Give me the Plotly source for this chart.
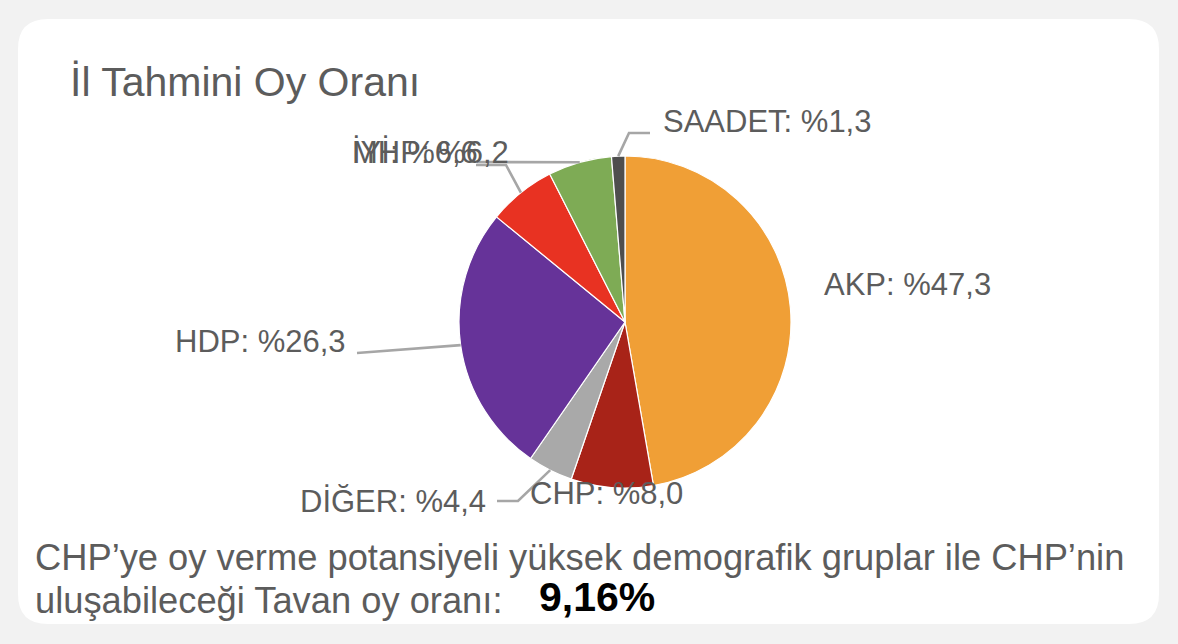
import math
import plotly.graph_objects as go

# ---------------- data ----------------
parties = ["AKP", "CHP", "DİĞER", "HDP", "İYİ", "MHP", "SAADET"]
vote_share = [47.3, 8.0, 4.4, 26.3, 6.6, 6.2, 1.3]
label_texts = ["AKP: %47,3", "CHP: %8,0", "DİĞER: %4,4", "HDP: %26,3",
               "İYİ: %6,6", "MHP: %6,2", "SAADET: %1,3"]
title_text = "İl Tahmini Oy Oranı"
note_line1 = "CHP’ye oy verme potansiyeli yüksek demografik gruplar ile CHP’nin"
note_line2 = "uluşabileceği Tavan oy oranı:"
ceiling_text = "9,16%"

# ---------------- styles / layout ----------------
W, H = 1178, 644
slice_colors = ["#F09F36", "#A82318", "#A9A9A9", "#663399", "#E83222", "#7EAB55", "#4E4E4E"]
FONT = "Liberation Sans, Arial, sans-serif"
TXT = "#5C5C5C"
LEADER = "#A6A6A6"
BG = "#F2F2F2"

CX, CY, R = 625, 322, 166   # pie centre / radius in pixels

# label text anchor (left, middle) and leader bend points (pixels)
label_layout = {
    "AKP":    dict(tx=822, ty=284, bends=None),
    "CHP":    dict(tx=528, ty=493, bends=None),
    "DİĞER":  dict(tx=298, ty=501, bends=[(518, 501), (497, 501)]),
    "HDP":    dict(tx=173, ty=342, bends=[(357, 353)]),
    "İYİ":    dict(tx=350, ty=152, bends=[(506, 165), (476, 165)]),
    "MHP":    dict(tx=350, ty=152, bends=[(477, 162)]),
    "SAADET": dict(tx=661, ty=121, bends=[(629, 133), (650, 133)]),
}


def px(x):
    return x / W


def py(y):
    return 1 - y / H


fig = go.Figure()

fig.add_trace(go.Pie(
    labels=parties,
    values=vote_share,
    sort=False,
    direction="clockwise",
    rotation=0,
    textinfo="none",
    hoverinfo="label+percent",
    marker=dict(colors=slice_colors, line=dict(color="white", width=1.2)),
    domain=dict(x=[px(CX - R), px(CX + R)], y=[py(CY + R), py(CY - R)]),
    showlegend=False,
))

shapes = []
# card background with rounded corners
x0, y0, x1, y1, rr = 18, 19, 1159, 624, 30
card_path = (
    f"M {px(x0 + rr)},{py(y0)} L {px(x1 - rr)},{py(y0)} "
    f"Q {px(x1)},{py(y0)} {px(x1)},{py(y0 + rr)} "
    f"L {px(x1)},{py(y1 - rr)} Q {px(x1)},{py(y1)} {px(x1 - rr)},{py(y1)} "
    f"L {px(x0 + rr)},{py(y1)} Q {px(x0)},{py(y1)} {px(x0)},{py(y1 - rr)} "
    f"L {px(x0)},{py(y0 + rr)} Q {px(x0)},{py(y0)} {px(x0 + rr)},{py(y0)} Z"
)
shapes.append(dict(type="path", path=card_path, xref="paper", yref="paper",
                   fillcolor="white", line=dict(width=0), layer="below"))

annotations = []
total = sum(vote_share)
cum = 0.0
for name, val, txt in zip(parties, vote_share, label_texts):
    mid = (cum + val / 2) / total
    cum += val
    ang = 2 * math.pi * mid          # clockwise from 12 o'clock
    ex = CX + R * math.sin(ang)
    ey = CY - R * math.cos(ang)
    lay = label_layout[name]
    if lay["bends"]:
        pts = [(ex, ey)] + lay["bends"]
        path = "M " + " L ".join(f"{px(a)},{py(b)}" for a, b in pts)
        shapes.append(dict(type="path", path=path, xref="paper", yref="paper",
                           line=dict(color=LEADER, width=2.6), layer="above"))
    annotations.append(dict(x=px(lay["tx"]), y=py(lay["ty"]), xref="paper", yref="paper",
                            text=txt, showarrow=False, xanchor="left", yanchor="middle",
                            font=dict(family=FONT, size=31, color=TXT)))

annotations.append(dict(x=px(68), y=py(82), xref="paper", yref="paper", text=title_text,
                        showarrow=False, xanchor="left", yanchor="middle",
                        font=dict(family=FONT, size=41, color=TXT)))
annotations.append(dict(x=px(33), y=py(557), xref="paper", yref="paper", text=note_line1,
                        showarrow=False, xanchor="left", yanchor="middle",
                        font=dict(family=FONT, size=36.3, color=TXT)))
annotations.append(dict(x=px(33), y=py(600), xref="paper", yref="paper", text=note_line2,
                        showarrow=False, xanchor="left", yanchor="middle",
                        font=dict(family=FONT, size=36.3, color=TXT)))
annotations.append(dict(x=px(537), y=py(597), xref="paper", yref="paper",
                        text=f"<b>{ceiling_text}</b>",
                        showarrow=False, xanchor="left", yanchor="middle",
                        font=dict(family=FONT, size=41, color="#000000")))

fig.update_layout(
    width=W, height=H,
    margin=dict(l=0, r=0, t=0, b=0),
    paper_bgcolor=BG,
    plot_bgcolor=BG,
    shapes=shapes,
    annotations=annotations,
    showlegend=False,
)

fig.write_html(
    "out.html",
    config={"displayModeBar": False},
    post_script=(
        "document.body.style.margin='0';"
        "document.body.style.padding='0';"
        f"document.body.style.background='{BG}';"
        "document.body.style.overflow='hidden';"
    ),
)
